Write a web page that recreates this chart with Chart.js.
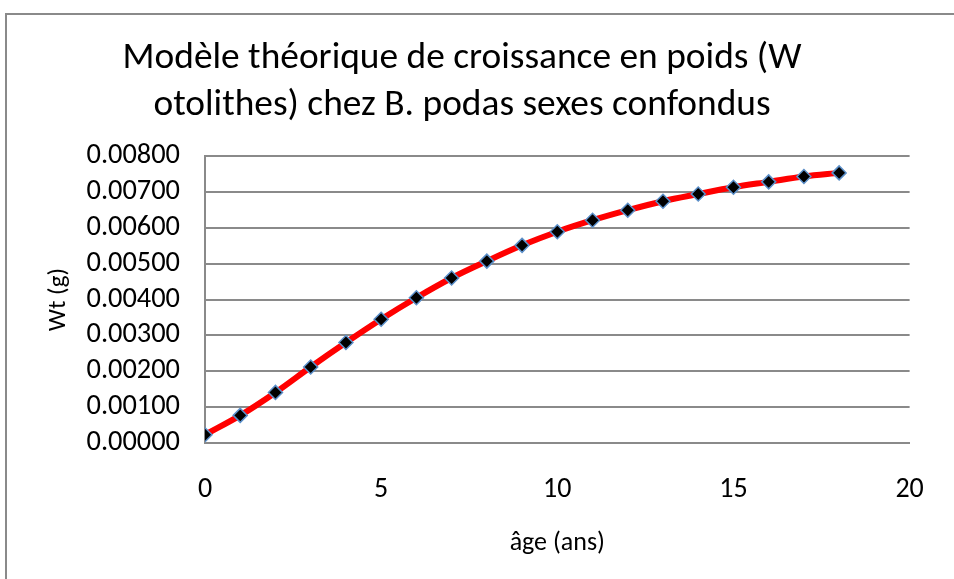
<!DOCTYPE html>
<html>
<head>
<meta charset="utf-8">
<script src="https://cdn.jsdelivr.net/npm/chart.js@4/dist/chart.umd.min.js"></script>
<style>
  html, body { margin: 0; padding: 0; background: #fff; overflow: hidden; }
  #wrap { position: relative; width: 954px; height: 579px; }
  #frame { position: absolute; left: 5px; top: 13px; width: 1000px; height: 700px;
           border-top: 2px solid #8a8a8a; border-left: 2px solid #8a8a8a; box-sizing: border-box; }
  canvas { position: absolute; left: 0; top: 0; }
</style>
</head>
<body>
<div id="wrap">
  <div id="frame"></div>
  <canvas id="c" width="954" height="579"></canvas>
</div>
<script>
const titleLines = ["Modèle théorique de croissance en poids (W", "otolithes) chez B. podas sexes confondus"];
const xAxisTitle = "âge (ans)";
const yAxisTitle = "Wt (g)";
const ages = [0, 1, 2, 3, 4, 5, 6, 7, 8, 9, 10, 11, 12, 13, 14, 15, 16, 17, 18];
const weights = [0.00023, 0.00077, 0.00141, 0.00212, 0.00280, 0.00345, 0.00405, 0.00460, 0.00507, 0.00551,
                 0.00589, 0.00621, 0.00649, 0.00674, 0.00694, 0.00713, 0.00728, 0.00743, 0.00753];
const xTicks = [0, 5, 10, 15, 20];
const yTicks = [0, 0.001, 0.002, 0.003, 0.004, 0.005, 0.006, 0.007, 0.008];

const FONT = "Carlito, Calibri, Lato, sans-serif";
const points = ages.map((a, i) => ({ x: a, y: weights[i] }));

new Chart(document.getElementById('c'), {
  type: 'line',
  data: {
    datasets: [{
      data: points,
      borderColor: '#ff0000',
      borderWidth: 6,
      cubicInterpolationMode: 'monotone',
      pointStyle: 'rectRot',
      pointRadius: 7,
      pointBackgroundColor: '#000000',
      pointBorderColor: '#5b8fc9',
      pointBorderWidth: 1.5,
      fill: false
    }]
  },
  options: {
    responsive: false,
    animation: false,
    devicePixelRatio: 1,
    layout: { padding: { top: 35, right: 30, bottom: 0, left: 0 } },
    plugins: {
      legend: { display: false },
      tooltip: { enabled: false },
      title: {
        display: true,
        text: titleLines,
        color: '#000',
        font: { family: FONT, size: 37.4, weight: 'normal', lineHeight: 1.257 },
        padding: { top: 0, bottom: 27 }
      }
    },
    scales: {
      x: {
        type: 'linear',
        min: 0, max: 20,
        afterBuildTicks: s => { s.ticks = xTicks.map(v => ({ value: v })); },
        afterFit: s => { s.height = 136; },
        ticks: { color: '#000', font: { family: FONT, size: 28, lineHeight: 1.2 }, padding: 30.2,
                 maxRotation: 0, autoSkip: false },
        grid: { display: false, drawTicks: false },
        border: { display: true, color: '#8a8a8a', width: 2 },
        title: { display: true, text: xAxisTitle, color: '#000',
                 font: { family: FONT, size: 26, lineHeight: 1.2 }, padding: { top: 0, bottom: 20.4 } }
      },
      y: {
        type: 'linear',
        min: 0, max: 0.008,
        afterBuildTicks: s => { s.ticks = yTicks.map(v => ({ value: v })); },
        afterFit: s => { s.width = 205; },
        ticks: { color: '#000', font: { family: FONT, size: 28.4 }, padding: 25, autoSkip: false,
                 callback: v => Number(v).toFixed(5) },
        grid: { color: '#8a8a8a', lineWidth: 2, drawTicks: false },
        border: { display: true, color: '#8a8a8a', width: 2 },
        title: { display: true, text: yAxisTitle, color: '#000',
                 font: { family: FONT, size: 25, lineHeight: 1.2 }, padding: { top: 44, bottom: 0 } }
      }
    }
  }
});
</script>
</body>
</html>
